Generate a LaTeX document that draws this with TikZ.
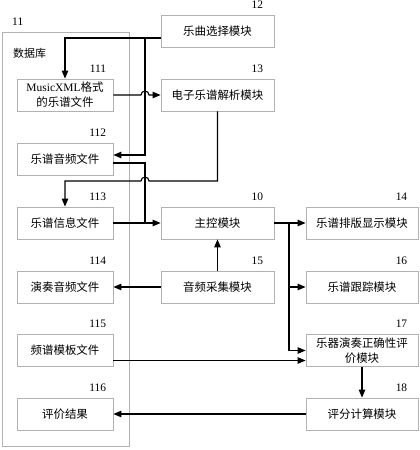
\documentclass[tikz,border=0pt]{standalone}
\usepackage{fontspec}
\setmainfont{Liberation Serif}
\newfontfamily\cjk{Noto Sans CJK SC}
\usetikzlibrary{arrows.meta}

\tikzset{
  box/.style={draw=gray!60,line width=0.8bp,minimum height=32bp,inner sep=1bp,
    align=center,font=\cjk\fontsize{11.5}{15}\selectfont},
  lbox/.style={box,minimum width=96bp},
  mbox/.style={box,minimum width=113bp},
  rbox/.style={box,minimum width=112bp},
  num/.style={font=\rmfamily\fontsize{11.5}{13}\selectfont,anchor=south east,
    inner sep=0pt,xshift=-7bp,yshift=6bp},
  conn/.style={line width=1.1bp,-{Triangle[length=8bp,width=6.5bp]}},
  wire/.style={line width=1.1bp}
}

\begin{document}
\begin{tikzpicture}[x=1bp,y=-1bp]

\useasboundingbox (0,0) rectangle (419,450);

% database
\node[draw=gray!60,line width=0.8bp,minimum width=127bp,minimum height=414bp,inner sep=0pt] (db) at (65.5,239) {};
\node[font=\rmfamily\fontsize{11.5}{13}\selectfont,anchor=south west,inner sep=0pt] (n11) at (12,26) {11};
\node[font=\cjk\fontsize{11}{13}\selectfont,anchor=west,inner sep=0pt] (dbname) at (13,53) {数据库};

% files in the database
\node[lbox,label={[num]north east:111}] (m111) at (65,95) {{\rmfamily MusicXML}格式\\的乐谱文件};
\node[lbox,label={[num]north east:112}] (m112) at (65,159) {乐谱音频文件};
\node[lbox,label={[num]north east:113}] (m113) at (65,223) {乐谱信息文件};
\node[lbox,label={[num]north east:114}] (m114) at (65,287) {演奏音频文件};
\node[lbox,label={[num]north east:115}] (m115) at (65,350.5) {频谱模板文件};
\node[lbox,label={[num]north east:116}] (m116) at (65,414) {评价结果};

% modules
\node[mbox,label={[num,xshift=-4bp]north east:12}] (m12) at (217.5,31) {乐曲选择模块};
\node[mbox,label={[num,xshift=-4bp]north east:13}] (m13) at (217.5,95) {电子乐谱解析模块};
\node[mbox,label={[num,xshift=-4bp]north east:10}] (m10) at (217.5,223) {主控模块};
\node[mbox,label={[num,xshift=-4bp]north east:15}] (m15) at (217.5,287) {音频采集模块};

\node[rbox,label={[num,xshift=-4bp]north east:14}] (m14) at (362,223) {乐谱排版显示模块};
\node[rbox,label={[num,xshift=-4bp]north east:16}] (m16) at (362,287) {乐谱跟踪模块};
\node[rbox,label={[num,xshift=-4bp]north east:17}] (m17) at (362,350.5) {乐器演奏正确性评\\价模块};
\node[rbox,label={[num,xshift=-4bp]north east:18}] (m18) at (362,414) {评分计算模块};

\coordinate (bus) at (145,38);
\coordinate (fork) at (289,223);

% connections
\draw[conn] ([yshift=-7bp]m12.west) -| (m111.north);
\draw[conn] (bus) |- ([yshift=4bp]m112.east);
\draw[conn] (m111.east) -- (141,95) arc[start angle=180,end angle=0,radius=4bp] -- (m13.west);
\draw[conn] (m13.south) |- (149,181) arc[start angle=0,end angle=180,radius=4bp] -| (m113.north);
\draw[wire] ([yshift=-4bp]m112.east) -| (145,223);
\draw[conn] (m113.east) -- (m10.west);
\draw[conn] (m15.north) -- (m10.south);
\draw[conn] (m15.west) -- (m114.east);
\draw[conn] (m10.east) -- (m14.west);
\draw[conn] (fork) |- (m16.west);
\draw[conn] (fork) |- (m17.west);
\draw[conn] ([yshift=-10bp]m115.east) -- ([yshift=-10bp]m17.west);
\draw[conn] (m17.south) -- (m18.north);
\draw[conn] (m18.west) -- (m116.east);

\end{tikzpicture}
\end{document}
